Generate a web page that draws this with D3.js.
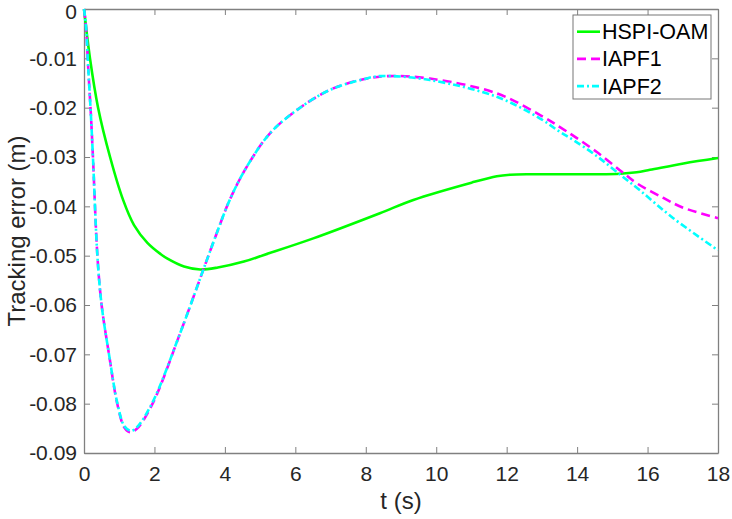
<!DOCTYPE html>
<html>
<head>
<meta charset="utf-8">
<script src="https://cdn.jsdelivr.net/npm/d3@7"></script>
<style>
  body { margin: 0; background: #fff; }
  svg { font-family: "Liberation Sans", Arial, sans-serif; }
</style>
</head>
<body>
<div id="chart"></div>
<script>
// time axis ticks
var xTicks = [0, 2, 4, 6, 8, 10, 12, 14, 16, 18]
var yTicks = [0, -0.01, -0.02, -0.03, -0.04, -0.05, -0.06, -0.07, -0.08, -0.09]
var yTickLabels = ["0", "-0.01", "-0.02", "-0.03", "-0.04", "-0.05", "-0.06", "-0.07", "-0.08", "-0.09"]

var names = ["HSPI-OAM", "IAPF1", "IAPF2"]

// HSPI-OAM
var tHspi = [0, 0.17, 0.4, 0.74, 1.11, 1.42, 1.8, 2.18, 2.37, 2.84, 3.3, 3.8, 4.54, 5.09, 6.51, 8.4, 9.35, 11.0, 11.72, 12.1, 12.67, 13.51, 14.5, 15.22, 15.69, 16.07, 17.02, 18]
var eHspi = [0, -0.01, -0.02, -0.03, -0.0387, -0.0438, -0.0474, -0.0497, -0.0506, -0.0522, -0.0528, -0.0524, -0.0512, -0.0499, -0.0465, -0.0414, -0.0387, -0.0352, -0.0339, -0.0336, -0.0335, -0.0335, -0.0335, -0.0334, -0.0331, -0.0326, -0.0313, -0.0302]

// IAPF1
var tIapf1 = [0, 0.05, 0.12, 0.2, 0.26, 0.38, 0.5, 0.71, 0.95, 1.15, 1.31, 1.5, 1.94, 2.73, 3.39, 3.75, 4.15, 4.62, 5.28, 6.04, 6.98, 7.93, 8.64, 9.82, 11.72, 12.95, 13.7, 14.56, 15.27, 15.69, 16.45, 17.02, 18]
var eIapf1 = [0, -0.003, -0.012, -0.022, -0.031, -0.05, -0.06, -0.07, -0.0802, -0.0849, -0.0858, -0.0851, -0.0801, -0.0657, -0.0528, -0.0458, -0.0385, -0.032, -0.0252, -0.0205, -0.0164, -0.01425, -0.0136, -0.0141, -0.0171, -0.0215, -0.0248, -0.029, -0.033, -0.0353, -0.0383, -0.0403, -0.0424]

// IAPF2
var tIapf2 = [0, 0.05, 0.12, 0.2, 0.26, 0.38, 0.5, 0.71, 0.95, 1.15, 1.33, 1.5, 1.94, 2.73, 3.39, 3.75, 4.15, 4.62, 5.28, 6.04, 6.98, 7.93, 8.4, 9.82, 11.72, 12.95, 13.51, 13.9, 14.5, 15.12, 15.79, 16.73, 18]
var eIapf2 = [0, -0.003, -0.012, -0.022, -0.031, -0.05, -0.06, -0.07, -0.08, -0.0846, -0.0855, -0.0848, -0.0798, -0.0657, -0.0528, -0.0458, -0.0385, -0.032, -0.0252, -0.0205, -0.0164, -0.01425, -0.0136, -0.0144, -0.0178, -0.0222, -0.0249, -0.0266, -0.0295, -0.033, -0.0368, -0.0424, -0.0489]

var width = 732, height = 519
var margin = { left: 84, right: 14, top: 9, bottom: 66 }
var x0 = margin.left, x1 = width - margin.right,
    y0 = margin.top, y1 = height - margin.bottom

var svg = d3.select("#chart").append("svg")
    .attr("width", width)
    .attr("height", height)

var x = d3.scaleLinear().domain([0, 18]).range([x0, x1])
var y = d3.scaleLinear().domain([-0.09, 0]).range([y1, y0])

var axisColor = "#808080", textColor = "#262626", fs = 21, fsLabel = 24

// axes box with inward ticks
svg.append("g")
    .attr("transform", "translate(0," + y1 + ")")
    .call(d3.axisBottom(x).tickValues(xTicks).tickSizeInner(-6).tickSizeOuter(0).tickPadding(13))
svg.append("g")
    .attr("transform", "translate(0," + y0 + ")")
    .call(d3.axisTop(x).tickValues(xTicks).tickSizeInner(-6).tickSizeOuter(0).tickFormat(""))
var yAxis = svg.append("g")
    .attr("transform", "translate(" + x0 + ",0)")
    .call(d3.axisLeft(y).tickValues(yTicks).tickSizeInner(-6).tickSizeOuter(0).tickPadding(7)
      .tickFormat(function(d, i) { return yTickLabels[i] }))
svg.append("g")
    .attr("transform", "translate(" + x1 + ",0)")
    .call(d3.axisRight(y).tickValues(yTicks).tickSizeInner(-6).tickSizeOuter(0).tickFormat(""))

svg.selectAll(".domain").attr("stroke", axisColor).attr("stroke-width", 1.3)
svg.selectAll(".tick line").attr("stroke", axisColor).attr("stroke-width", 1)
svg.selectAll(".tick text")
    .attr("fill", textColor)
    .style("font-size", fs + "px")
    .style("font-family", "Liberation Sans, Arial, sans-serif")

// keep the top "0" inside the picture
yAxis.selectAll(".tick text")
    .filter(function(d) { return d === 0 })
    .attr("y", 3)

// axis labels
svg.append("text")
    .attr("x", (x0 + x1) / 2)
    .attr("y", 509)
    .attr("text-anchor", "middle")
    .attr("fill", textColor)
    .style("font-size", fsLabel + "px")
    .text("t (s)")

svg.append("text")
    .attr("transform", "translate(25," + (y0 + y1) / 2 + ") rotate(-90)")
    .attr("text-anchor", "middle")
    .attr("fill", textColor)
    .style("font-size", fsLabel + "px")
    .text("Tracking error (m)")

// series
var series = [
  { name: names[0], t: tHspi, e: eHspi, color: "#00ff00", dash: null },
  { name: names[1], t: tIapf1, e: eIapf1, color: "#ff00ff", dash: "9,5" },
  { name: names[2], t: tIapf2, e: eIapf2, color: "#00ffff", dash: "7,3,2,3" }
]

var line = d3.line()
    .x(function(d) { return x(d[0]) })
    .y(function(d) { return y(d[1]) })
    .curve(d3.curveCatmullRom.alpha(0.5))

svg.selectAll("path.series")
    .data(series)
  .enter().append("path")
    .attr("class", "series")
    .attr("d", function(s) { return line(d3.zip(s.t, s.e)) })
    .attr("fill", "none")
    .attr("stroke", function(s) { return s.color })
    .attr("stroke-width", 2.6)
    .attr("stroke-dasharray", function(s) { return s.dash })

// legend
var lg = svg.append("g").attr("transform", "translate(573,15)")
lg.append("rect")
    .attr("width", 138)
    .attr("height", 84)
    .attr("fill", "#fff")
    .attr("stroke", "#777")
    .attr("stroke-width", 1)

var item = lg.selectAll("g.item")
    .data(series)
  .enter().append("g")
    .attr("class", "item")
    .attr("transform", function(d, i) { return "translate(0," + (16.7 + i * 27.2) + ")" })
item.append("line")
    .attr("x1", 4).attr("x2", 27)
    .attr("stroke", function(d) { return d.color })
    .attr("stroke-width", 2.6)
    .attr("stroke-dasharray", function(d) { return d.dash })
item.append("text")
    .attr("x", 29)
    .attr("dy", "0.35em")
    .attr("fill", "#000")
    .style("font-size", "21.5px")
    .text(function(d) { return d.name })
</script>
</body>
</html>
